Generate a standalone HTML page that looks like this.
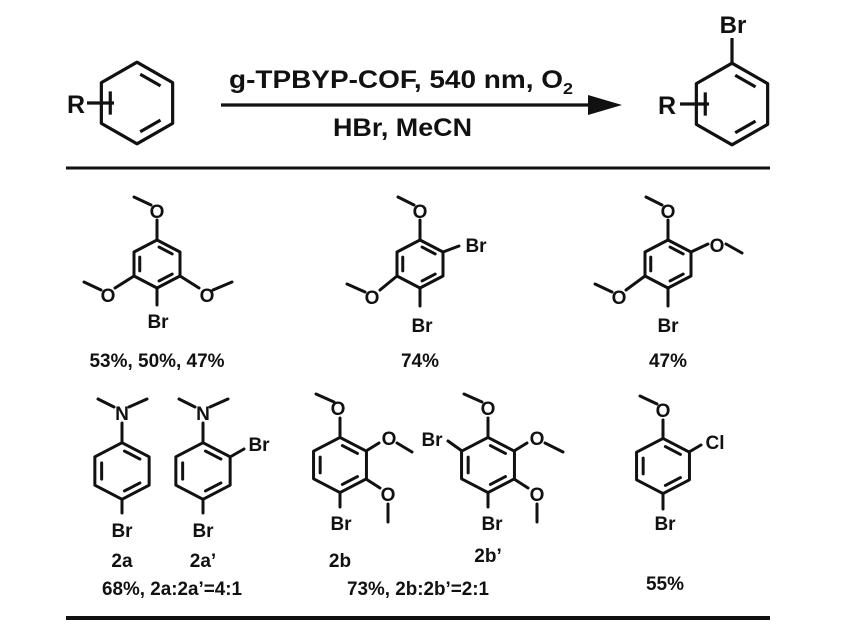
<!DOCTYPE html>
<html><head><meta charset="utf-8"><style>
html,body{margin:0;padding:0;background:#fff}
svg{display:block}
text{font-family:"Liberation Sans",Arial,sans-serif;font-weight:bold;fill:#111}
</style></head><body>
<svg width="851" height="628" viewBox="0 0 851 628" xmlns="http://www.w3.org/2000/svg">
<defs>
<g id="ring" fill="none" stroke="#111" stroke-linejoin="round">
<polygon points="0,-24 23,-12 23,12 0,24 -23,12 -23,-12" vector-effect="non-scaling-stroke"/>
<line x1="2.07" y1="-16.92" x2="15.18" y2="-10.08" vector-effect="non-scaling-stroke"/>
<line x1="15.18" y1="10.08" x2="2.07" y2="16.92" vector-effect="non-scaling-stroke"/>
<line x1="-17.25" y1="6.84" x2="-17.25" y2="-6.84" vector-effect="non-scaling-stroke"/>
</g>
</defs>
<g stroke="#111" stroke-width="3.2" fill="none">
<g transform="translate(137,103) scale(1.55,1.7)" stroke-width="3.2"><use href="#ring"/></g>
<line x1="87" y1="103" x2="114" y2="103"/>
<g transform="translate(732,104) scale(1.55,1.7)" stroke-width="3.2"><use href="#ring"/></g>
<line x1="732" y1="63" x2="732" y2="38"/>
<line x1="680" y1="104" x2="709" y2="104"/>
<line x1="221" y1="105" x2="600" y2="105"/>
</g>
<polygon points="588,95 622,105 588,115" fill="#111"/>
<line x1="66" y1="168" x2="770" y2="168" stroke="#111" stroke-width="3"/>
<line x1="66" y1="618" x2="770" y2="618" stroke="#111" stroke-width="4"/>
<text x="76" y="113" font-size="25" text-anchor="middle">R</text>
<text x="667" y="114" font-size="25" text-anchor="middle">R</text>
<text x="733" y="33" font-size="24" text-anchor="middle">Br</text>
<text x="229" y="88" font-size="25" textLength="344" lengthAdjust="spacingAndGlyphs">g-TPBYP-COF, 540 nm, O<tspan font-size="16" dy="6">2</tspan></text>
<text x="333" y="136" font-size="25" textLength="139" lengthAdjust="spacingAndGlyphs">HBr, MeCN</text>

<g stroke="#111" stroke-width="3" fill="none" stroke-linecap="round">
<g transform="translate(157,264)"><use href="#ring"/></g>
<line x1="157" y1="240" x2="157" y2="220"/><line x1="151" y1="205" x2="134" y2="197"/>
<line x1="134" y1="276" x2="115" y2="288"/><line x1="101" y1="290" x2="84" y2="282"/>
<line x1="180" y1="276" x2="199" y2="288"/><line x1="213" y1="290" x2="232" y2="282"/>
<line x1="157" y1="288" x2="157" y2="305"/>
<g transform="translate(420,264)"><use href="#ring"/></g>
<line x1="420" y1="240" x2="420" y2="220"/><line x1="414" y1="205" x2="398" y2="197"/>
<line x1="443" y1="252" x2="459" y2="246"/>
<line x1="397" y1="276" x2="380" y2="290"/><line x1="365" y1="292" x2="347" y2="284"/>
<line x1="420" y1="288" x2="420" y2="306"/>
<g transform="translate(668,264)"><use href="#ring"/></g>
<line x1="668" y1="240" x2="668" y2="220"/><line x1="662" y1="205" x2="646" y2="197"/>
<line x1="691" y1="252" x2="708" y2="244"/><line x1="726" y1="244" x2="742" y2="253"/>
<line x1="645" y1="276" x2="626" y2="290"/><line x1="612" y1="292" x2="595" y2="284"/>
<line x1="668" y1="288" x2="668" y2="306"/>
<g transform="translate(122,471) scale(1.18)"><use href="#ring"/></g>
<line x1="122" y1="443" x2="122" y2="423"/><line x1="114" y1="407" x2="98" y2="399"/><line x1="129" y1="407" x2="147" y2="399"/>
<line x1="122" y1="499" x2="122" y2="513"/>
<g transform="translate(203,471) scale(1.18)"><use href="#ring"/></g>
<line x1="203" y1="443" x2="203" y2="423"/><line x1="195" y1="407" x2="179" y2="399"/><line x1="210" y1="407" x2="228" y2="399"/>
<line x1="230" y1="457" x2="244" y2="449"/>
<line x1="203" y1="499" x2="203" y2="513"/>
<g transform="translate(340,465) scale(1.15)"><use href="#ring"/></g>
<line x1="340" y1="437" x2="340" y2="418"/><line x1="334" y1="402" x2="316" y2="394"/>
<line x1="366" y1="451" x2="379" y2="443"/><line x1="397" y1="443" x2="412" y2="452"/>
<line x1="366" y1="479" x2="380" y2="488"/><line x1="388" y1="504" x2="388" y2="522"/>
<line x1="340" y1="493" x2="340" y2="507"/>
<g transform="translate(488,465) scale(1.15)"><use href="#ring"/></g>
<line x1="488" y1="437" x2="488" y2="418"/><line x1="482" y1="402" x2="464" y2="394"/>
<line x1="514" y1="451" x2="527" y2="443"/><line x1="545" y1="443" x2="563" y2="452"/>
<line x1="514" y1="479" x2="528" y2="488"/><line x1="537" y1="504" x2="537" y2="522"/>
<line x1="462" y1="451" x2="448" y2="441"/>
<line x1="488" y1="493" x2="488" y2="507"/>
<g transform="translate(663,466) scale(1.15)"><use href="#ring"/></g>
<line x1="663" y1="438" x2="663" y2="420"/><line x1="657" y1="404" x2="640" y2="396"/>
<line x1="689" y1="452" x2="701" y2="445"/>
<line x1="663" y1="494" x2="663" y2="509"/>
</g>
<g font-size="19" text-anchor="middle">
<text x="157" y="218">O</text><text x="108" y="302">O</text><text x="207" y="302">O</text><text x="158" y="328">Br</text>
<text x="420" y="218">O</text><text x="476" y="252">Br</text><text x="372" y="304">O</text><text x="422" y="332">Br</text>
<text x="668" y="218">O</text><text x="717" y="252">O</text><text x="619" y="304">O</text><text x="668" y="332">Br</text>
<text x="122" y="420">N</text><text x="122" y="537">Br</text>
<text x="203" y="420">N</text><text x="259" y="451">Br</text><text x="203" y="537">Br</text>
<text x="338" y="415">O</text><text x="389" y="445">O</text><text x="388" y="501">O</text><text x="341" y="530">Br</text>
<text x="488" y="415">O</text><text x="537" y="445">O</text><text x="537" y="501">O</text><text x="432" y="446">Br</text><text x="492" y="530">Br</text>
<text x="663" y="417">O</text><text x="715" y="449">Cl</text><text x="665" y="530">Br</text>
<text x="157" y="367" textLength="135" lengthAdjust="spacingAndGlyphs">53%, 50%, 47%</text>
<text x="420" y="367">74%</text>
<text x="668" y="367">47%</text>
<text x="122" y="567">2a</text><text x="203" y="567">2a’</text>
<text x="340" y="567">2b</text><text x="488" y="562">2b’</text>
<text x="172" y="595" textLength="140" lengthAdjust="spacingAndGlyphs">68%, 2a:2a’=4:1</text>
<text x="418" y="595" textLength="142" lengthAdjust="spacingAndGlyphs">73%, 2b:2b’=2:1</text>
<text x="665" y="590">55%</text>
</g>
</svg>
</body></html>
